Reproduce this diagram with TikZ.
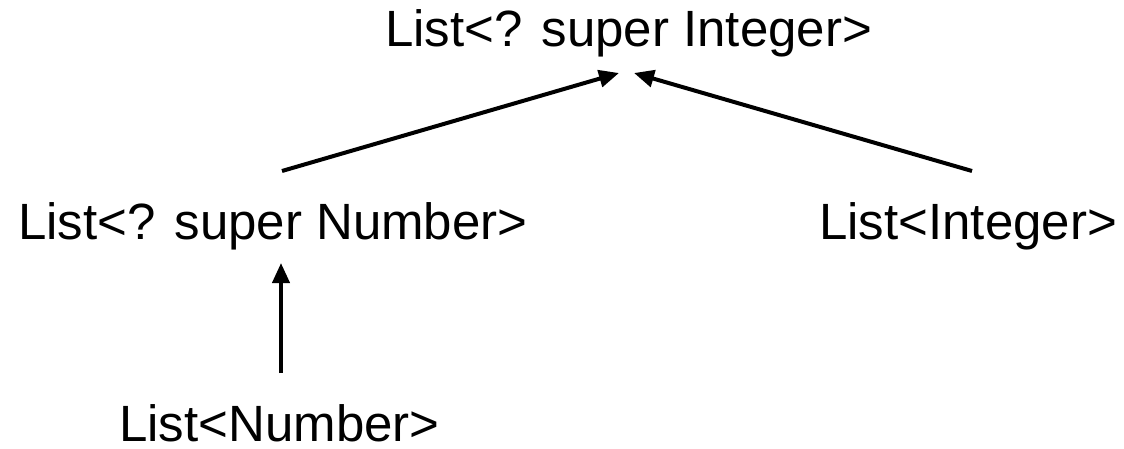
\documentclass[tikz,border=0pt]{standalone}
\usepackage{fontspec}
\setmainfont{Liberation Sans}
\usetikzlibrary{arrows.meta}
\begin{document}
\begin{tikzpicture}[x=1pt,y=-1pt,
  lbl/.style={inner sep=0pt, anchor=base west, font=\fontsize{51}{60}\selectfont},
  arr/.style={line width=4pt, -{Triangle[length=20pt,width=17pt]}}]
\useasboundingbox (0,0) rectangle (1124,449);
\node[lbl] (top) at (385,47) {List<? super Integer>};
\node[lbl] (mid) at (18,240) {List<? super Number>};
\node[lbl] (int) at (819,240) {List<Integer>};
\node[lbl, text depth=0pt] (num) at (119,441) {List<Number>};
\draw[arr] ([shift={(264,-69)}]mid.base west) -- ([shift={(234,26)}]top.base west);
\draw[arr] ([shift={(153,-69)}]int.base west) -- ([shift={(249,26)}]top.base west);
\draw[arr] ([shift={(162,-68)}]num.base west) -- ([shift={(263,23)}]mid.base west);
\end{tikzpicture}
\end{document}
